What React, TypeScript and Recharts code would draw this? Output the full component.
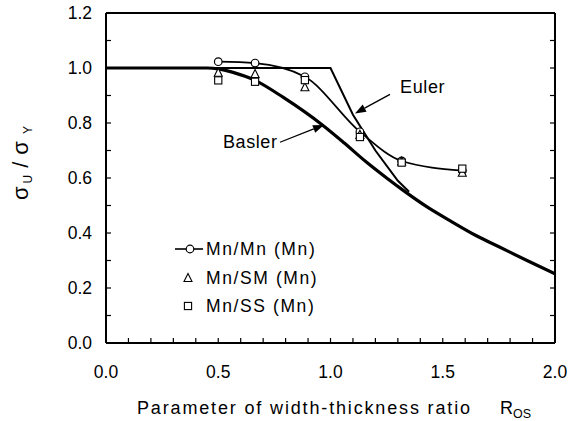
import React from 'react';
import {
  ComposedChart,
  Line,
  Scatter,
  XAxis,
  YAxis,
  ReferenceLine,
  ReferenceDot,
  Legend,
} from 'recharts';

// ---- data ----
const specimenR = [0.5, 0.664, 0.886, 1.131, 1.317, 1.587];
const mnMnValues = [1.023, 1.018, 0.968, 0.768, 0.662, 0.627];
const mnSmValues = [0.983, 0.978, 0.93, 0.757, 0.66, 0.619];
const mnSsValues = [0.955, 0.95, 0.956, 0.749, 0.656, 0.634];

const baslerR = [0, 0.45, 0.5, 0.566, 0.664, 0.79, 0.968, 1.06, 1.161, 1.25, 1.324, 1.43, 1.532, 1.65, 1.755, 1.88, 2.0];
const baslerValues = [1, 1, 0.997, 0.984, 0.955, 0.893, 0.79, 0.728, 0.657, 0.6, 0.555, 0.495, 0.445, 0.39, 0.348, 0.298, 0.252];

const eulerR = [0, 1.0, 1.1, 1.2, 1.3, 1.35];
const eulerValues = [1, 1, 0.83, 0.7, 0.59, 0.55];

const xTicks = [0, 0.1, 0.2, 0.3, 0.4, 0.5, 0.6, 0.7, 0.8, 0.9, 1.0, 1.1, 1.2, 1.3, 1.4, 1.5, 1.6, 1.7, 1.8, 1.9, 2.0];
const xLabelTicks = [0, 0.5, 1.0, 1.5, 2.0];
const yTicks = [0, 0.1, 0.2, 0.3, 0.4, 0.5, 0.6, 0.7, 0.8, 0.9, 1.0, 1.1, 1.2];
const yLabelTicks = [0, 0.2, 0.4, 0.6, 0.8, 1.0, 1.2];

const legendLabels = ['Mn/Mn (Mn)', 'Mn/SM (Mn)', 'Mn/SS (Mn)'];
const xTitle = 'Parameter of width-thickness ratio';

// annotation anchors (data space)
const eulerArrow = [{ x: 1.265, y: 0.904 }, { x: 1.109, y: 0.835 }];
const baslerArrow = [{ x: 0.775, y: 0.73 }, { x: 0.971, y: 0.793 }];
const eulerLabelPos = { x: 1.31, y: 0.909 };
const baslerLabelPos = { x: 0.521, y: 0.709 };

const FONT = '"Liberation Sans", Arial, sans-serif';

const toPts = (xs: number[], ys: number[]) => xs.map((x, i) => ({ x, y: ys[i] }));
const baslerData = toPts(baslerR, baslerValues);
const eulerData = toPts(eulerR, eulerValues);
const mnMnData = toPts(specimenR, mnMnValues);
const mnSmData = toPts(specimenR, mnSmValues);
const mnSsData = toPts(specimenR, mnSsValues);

const TICK_LEN = 5;

const BottomTick = (p: any) => {
  const { x, y, payload } = p;
  const v = payload.value;
  return (
    <g>
      <line x1={x} x2={x} y1={y} y2={y - TICK_LEN} stroke="#000" strokeWidth={1.2} />
      {xLabelTicks.includes(v) && (
        <text x={x} y={y + 35} textAnchor="middle" fontFamily={FONT} fontSize={17.5} fill="#000">
          {v.toFixed(1)}
        </text>
      )}
    </g>
  );
};

const TopTick = (p: any) => {
  const { x, y } = p;
  return <line x1={x} x2={x} y1={y} y2={y + TICK_LEN} stroke="#000" strokeWidth={1.2} />;
};

const LeftTick = (p: any) => {
  const { x, y, payload } = p;
  const v = payload.value;
  return (
    <g>
      <line x1={x} x2={x + TICK_LEN} y1={y} y2={y} stroke="#000" strokeWidth={1.2} />
      {yLabelTicks.includes(v) && (
        <text x={x - 14} y={y + 6} textAnchor="end" fontFamily={FONT} fontSize={17.5} fill="#000">
          {v.toFixed(1)}
        </text>
      )}
    </g>
  );
};

const RightTick = (p: any) => {
  const { x, y } = p;
  return <line x1={x} x2={x - TICK_LEN} y1={y} y2={y} stroke="#000" strokeWidth={1.2} />;
};

const YTitle = (p: any) => {
  const vb = p.viewBox || { x: 0, y: 13 };
  const cx = vb.x + 28;
  const cy = vb.y + 187;
  return (
    <text x={cx} y={cy} transform={`rotate(-90 ${cx} ${cy})`} fontFamily={FONT} fontSize={22} fill="#000">
      <tspan>σ</tspan>
      <tspan fontSize={12} dx={3} dy={4}>U</tspan>
      <tspan dx={7} dy={-4}>/</tspan>
      <tspan dx={7}>σ</tspan>
      <tspan fontSize={12} dx={7} dy={4}>Y</tspan>
    </text>
  );
};

const XTitle = (p: any) => {
  const vb = p.viewBox || { x: 106, y: 343 };
  const x0 = vb.x + 31;
  const y0 = vb.y + 71;
  return (
    <g fontFamily={FONT} fill="#000">
      <text x={x0} y={y0} fontSize={18} textLength={333} lengthAdjust="spacing">
        {xTitle}
      </text>
      <text x={x0 + 363} y={y0} fontSize={18}>
        <tspan>R</tspan>
        <tspan fontSize={12.5} dy={4}>OS</tspan>
      </text>
    </g>
  );
};

const Arrow = (p: any) => {
  const { x1, y1, x2, y2 } = p;
  const dx = x2 - x1;
  const dy = y2 - y1;
  const len = Math.sqrt(dx * dx + dy * dy) || 1;
  const ux = dx / len;
  const uy = dy / len;
  const hl = 11;
  const hw = 4;
  const bx = x2 - ux * hl;
  const by = y2 - uy * hl;
  return (
    <g>
      <line x1={x1} y1={y1} x2={bx} y2={by} stroke="#000" strokeWidth={1.3} />
      <polygon
        points={`${x2},${y2} ${bx - uy * hw},${by + ux * hw} ${bx + uy * hw},${by - ux * hw}`}
        fill="#000"
      />
    </g>
  );
};

const labelShape = (text: string) => (p: any) => (
  <text x={p.cx} y={p.cy} fontFamily={FONT} fontSize={18} fill="#000" letterSpacing={0.6}>
    {text}
  </text>
);

const CircleShape = (p: any) => (
  <circle cx={p.cx} cy={p.cy} r={3.8} fill="#fff" stroke="#000" strokeWidth={1.2} />
);
const TriangleShape = (p: any) => (
  <polygon
    points={`${p.cx},${p.cy - 4.5} ${p.cx - 4},${p.cy + 3.5} ${p.cx + 4},${p.cy + 3.5}`}
    fill="#fff"
    stroke="#000"
    strokeWidth={1.1}
  />
);
const SquareShape = (p: any) => (
  <rect x={p.cx - 3.6} y={p.cy - 3.6} width={7.2} height={7.2} fill="#fff" stroke="#000" strokeWidth={1.1} />
);

const LegendContent = () => {
  const rows = [15, 44, 72];
  return (
    <svg width={170} height={85} style={{ overflow: 'visible' }}>
      <line x1={7} x2={35} y1={rows[0]} y2={rows[0]} stroke="#000" strokeWidth={1.6} />
      <CircleShape cx={22} cy={rows[0]} />
      <TriangleShape cx={20} cy={rows[1]} />
      <SquareShape cx={20} cy={rows[2]} />
      {legendLabels.map((t, i) => (
        <text
          key={t}
          x={38}
          y={rows[i] + 6}
          fontFamily={FONT}
          fontSize={17.5}
          letterSpacing={1.6}
          fill="#000"
        >
          {t}
        </text>
      ))}
    </svg>
  );
};

export default function App() {
  const axisLine = { stroke: '#000', strokeWidth: 2 };
  return (
    <div style={{ width: 575, height: 421, overflow: 'hidden', background: '#fff' }}>
      <style>{'body{margin:0;}'}</style>
      <ComposedChart width={575} height={421} margin={{ top: 0, right: 0, bottom: 0, left: 0 }}>
        <XAxis
          type="number"
          dataKey="x"
          domain={[0, 2]}
          ticks={xTicks}
          interval={0}
          height={78}
          tickSize={0}
          tickMargin={0}
          tickLine={false}
          tick={BottomTick}
          axisLine={axisLine}
          allowDataOverflow
          label={XTitle}
        />
        <XAxis
          xAxisId="top"
          orientation="top"
          type="number"
          domain={[0, 2]}
          ticks={xTicks}
          interval={0}
          height={13}
          tickSize={0}
          tickMargin={0}
          tickLine={false}
          tick={TopTick}
          axisLine={axisLine}
          allowDataOverflow
        />
        <YAxis
          type="number"
          dataKey="y"
          domain={[0, 1.2]}
          ticks={yTicks}
          interval={0}
          width={106}
          tickSize={0}
          tickMargin={0}
          tickLine={false}
          tick={LeftTick}
          axisLine={axisLine}
          allowDataOverflow
          label={YTitle}
        />
        <YAxis
          yAxisId="right"
          orientation="right"
          type="number"
          domain={[0, 1.2]}
          ticks={yTicks}
          interval={0}
          width={20}
          tickSize={0}
          tickMargin={0}
          tickLine={false}
          tick={RightTick}
          axisLine={axisLine}
          allowDataOverflow
        />
        <Line
          data={baslerData}
          dataKey="y"
          type="monotone"
          stroke="#000"
          strokeWidth={3.2}
          dot={false}
          isAnimationActive={false}
          legendType="none"
        />
        <Line
          data={eulerData}
          dataKey="y"
          type="linear"
          stroke="#000"
          strokeWidth={2}
          dot={false}
          isAnimationActive={false}
          legendType="none"
        />
        <Line
          data={mnMnData}
          dataKey="y"
          type="monotone"
          stroke="#000"
          strokeWidth={1.7}
          dot={false}
          isAnimationActive={false}
          legendType="none"
        />
        <Scatter data={mnMnData} shape={CircleShape} isAnimationActive={false} />
        <Scatter data={mnSmData} shape={TriangleShape} isAnimationActive={false} />
        <Scatter data={mnSsData} shape={SquareShape} isAnimationActive={false} />
        <ReferenceLine segment={eulerArrow} shape={Arrow} ifOverflow="visible" />
        <ReferenceLine segment={baslerArrow} shape={Arrow} ifOverflow="visible" />
        <ReferenceDot x={eulerLabelPos.x} y={eulerLabelPos.y} r={0} shape={labelShape('Euler')} ifOverflow="visible" />
        <ReferenceDot x={baslerLabelPos.x} y={baslerLabelPos.y} r={0} shape={labelShape('Basler')} ifOverflow="visible" />
        <Legend
          layout="vertical"
          align="center"
          verticalAlign="middle"
          content={LegendContent}
          wrapperStyle={{ left: 168, top: 234, width: 170, height: 85 }}
        />
      </ComposedChart>
    </div>
  );
}
